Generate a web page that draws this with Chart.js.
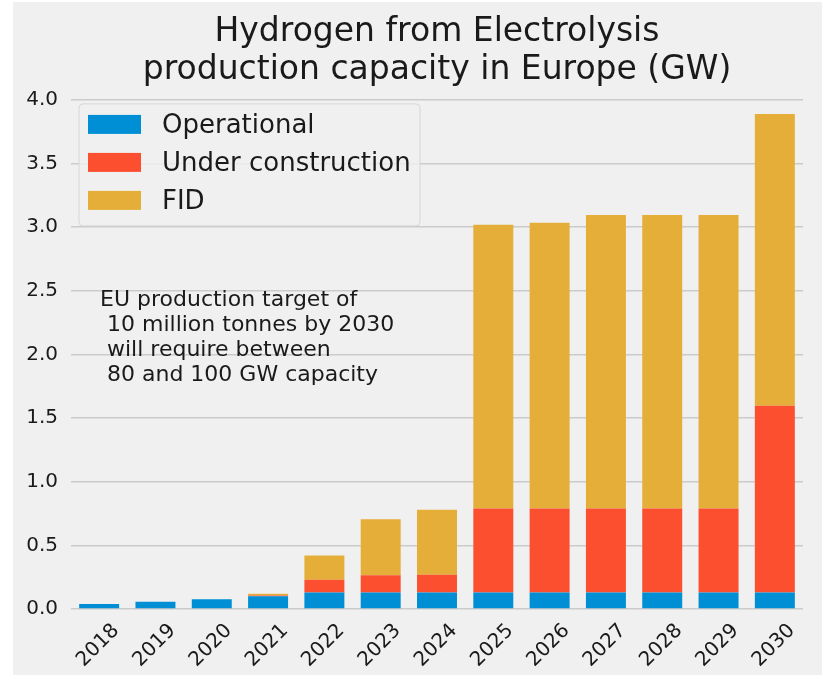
<!DOCTYPE html>
<html>
<head>
<meta charset="utf-8">
<script src="https://cdn.jsdelivr.net/npm/chart.js@4.4.1/dist/chart.umd.min.js"></script>
<style>
  html, body { margin: 0; padding: 0; background: #ffffff; }
  #wrap { position: absolute; left: 13px; top: 2px; width: 809px; height: 673px; background: #f0f0f0; }
  canvas { display: block; }
</style>
</head>
<body>
<div id="wrap"><canvas id="chart" width="809" height="673"></canvas></div>
<script>
// data (GW)
const years = ['2018', '2019', '2020', '2021', '2022', '2023', '2024', '2025', '2026', '2027', '2028', '2029', '2030'];
const operational       = [0.04, 0.057, 0.077, 0.10, 0.13, 0.13, 0.13, 0.13, 0.13, 0.13, 0.13, 0.13, 0.13];
const underConstruction = [0, 0, 0, 0.006, 0.10, 0.135, 0.14, 0.66, 0.66, 0.66, 0.66, 0.66, 1.466];
const fid               = [0, 0, 0, 0.013, 0.19, 0.44, 0.51, 2.23, 2.245, 2.305, 2.305, 2.305, 2.294];
const seriesNames = ['Operational', 'Under construction', 'FID'];
const titleLines = ['Hydrogen from Electrolysis', 'production capacity in Europe (GW)'];
const noteLines = ['EU production target of', ' 10 million tonnes by 2030', ' will require between', ' 80 and 100 GW capacity'];

const COLORS = {
  blue: '#008fd5',
  red: '#fc4f30',
  gold: '#e5ae38',
  grid: '#cbcbcb',
  ink: '#1a1a1a',
};
const FONT = 'DejaVu Sans, sans-serif';

// legend box + note, drawn inside the plot
const overlay = {
  id: 'overlay',
  afterDatasetsDraw(chart) {
    const ctx = chart.ctx;
    const a = chart.chartArea;
    ctx.save();

    // legend
    const lx = a.left + 8, ly = a.top + 4, lw = 341, lh = 122;
    ctx.beginPath();
    ctx.roundRect(lx, ly, lw, lh, 4);
    ctx.fillStyle = 'rgba(240,240,240,0.8)';
    ctx.fill();
    ctx.strokeStyle = '#d6d6d6';
    ctx.lineWidth = 1;
    ctx.stroke();
    ctx.font = '26px ' + FONT;
    ctx.textBaseline = 'middle';
    chart.data.datasets.forEach((ds, i) => {
      const cy = ly + 21 + i * 38;
      ctx.fillStyle = ds.backgroundColor;
      ctx.fillRect(lx + 9, cy - 10, 53, 19);
      ctx.fillStyle = COLORS.ink;
      ctx.fillText(ds.label, lx + 83, cy + 1);
    });

    // note
    ctx.font = '22px ' + FONT;
    ctx.textBaseline = 'middle';
    noteLines.forEach((t, i) => {
      ctx.fillText(t, a.left + 29, 298 + i * 25);
    });
    ctx.restore();
  }
};

new Chart(document.getElementById('chart'), {
  type: 'bar',
  data: {
    labels: years,
    datasets: [
      { label: seriesNames[0], data: operational, backgroundColor: COLORS.blue },
      { label: seriesNames[1], data: underConstruction, backgroundColor: COLORS.red },
      { label: seriesNames[2], data: fid, backgroundColor: COLORS.gold },
    ],
  },
  options: {
    responsive: false,
    animation: false,
    barPercentage: 0.71,
    categoryPercentage: 1,
    layout: { padding: { top: 11, right: 19, left: 0, bottom: 0 } },
    plugins: {
      legend: { display: false },
      tooltip: { enabled: false },
      title: {
        display: true,
        fullSize: false,
        text: titleLines,
        color: COLORS.ink,
        font: { family: FONT, size: 33, weight: 'normal', lineHeight: 1.15 },
        padding: { top: 0, bottom: 11 },
      },
    },
    scales: {
      x: {
        stacked: true,
        grid: { display: false, drawTicks: false },
        border: { display: false },
        afterFit(scale) { scale.height = 66; },
        ticks: {
          color: COLORS.ink,
          font: { family: FONT, size: 20 },
          minRotation: 45,
          maxRotation: 45,
          labelOffset: 17,
          padding: 10,
        },
      },
      y: {
        stacked: true,
        min: 0,
        max: 4,
        grid: { color: COLORS.grid, lineWidth: 1.6, drawTicks: false },
        border: { display: false },
        afterFit(scale) { scale.width = 58; },
        ticks: {
          stepSize: 0.5,
          color: COLORS.ink,
          font: { family: FONT, size: 20 },
          padding: 13,
          callback: (v) => v.toFixed(1),
        },
      },
    },
  },
  plugins: [overlay],
});
</script>
</body>
</html>
